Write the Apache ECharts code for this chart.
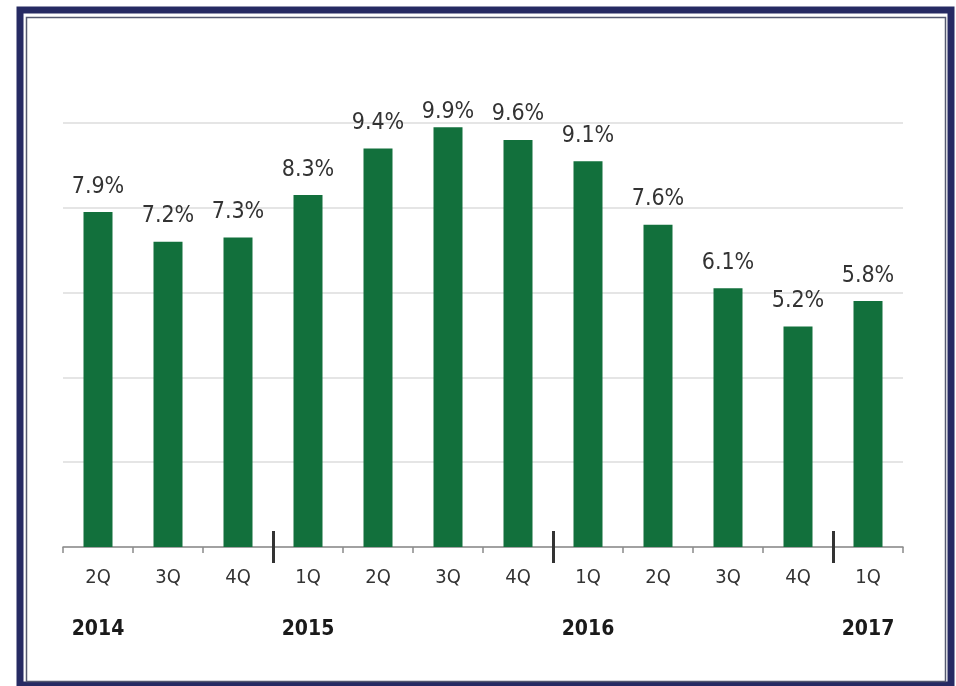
<!DOCTYPE html>
<html>
<head>
<meta charset="utf-8">
<script src="https://cdn.jsdelivr.net/npm/echarts@6/dist/echarts.min.js"></script>
<style>
html,body{margin:0;padding:0;background:#fff;}
#chart{width:956px;height:686px;}
</style>
</head>
<body>
<div id="chart"></div>
<script>
const quarters = ['2Q','3Q','4Q','1Q','2Q','3Q','4Q','1Q','2Q','3Q','4Q','1Q'];
const years    = ['2014','','','2015','','','','2016','','','','2017'];
const values   = [7.9, 7.2, 7.3, 8.3, 9.4, 9.9, 9.6, 9.1, 7.6, 6.1, 5.2, 5.8];
const yearStarts = [3, 7, 11];

const FONT = '"Liberation Sans Narrow", "DejaVu Sans Condensed", "Arial Narrow", sans-serif';
const chart = echarts.init(document.getElementById('chart'), null, {renderer: 'canvas'});

const option = {
  animation: false,
  backgroundColor: '#fff',
  grid: {left: 63, right: 53, top: 123, bottom: 139, containLabel: false},
  xAxis: [
    {
      type: 'category',
      data: quarters,
      position: 'bottom',
      axisLine: {show: true, lineStyle: {color: '#8a8a8a', width: 1.5}},
      axisTick: {show: true, length: 6, lineStyle: {color: '#8a8a8a', width: 1.5}},
      axisLabel: {
        interval: 0,
        margin: 19,
        formatter: function (v, i) {
          return '{q|' + v + '}\n{y|' + (years[i] || ' ') + '}';
        },
        rich: {
          q: {fontFamily: FONT, fontSize: 20, color: '#333', lineHeight: 24},
          y: {fontFamily: FONT, fontSize: 21, fontWeight: 'bold', color: '#1a1a1a', lineHeight: 24, padding: [55, 0, 0, 0]}
        }
      },
      splitLine: {show: false}
    },
    {
      type: 'value',
      min: 0,
      max: quarters.length,
      position: 'bottom',
      offset: -16,
      axisLine: {show: false},
      axisTick: {
        show: true,
        length: 32,
        customValues: yearStarts,
        lineStyle: {color: '#333', width: 3}
      },
      axisLabel: {show: false},
      splitLine: {show: false}
    }
  ],
  yAxis: {
    type: 'value',
    min: 0,
    max: 10,
    interval: 2,
    axisLine: {show: false},
    axisTick: {show: false},
    axisLabel: {show: false},
    splitLine: {show: true, lineStyle: {color: '#dcdcdc', width: 1.5}}
  },
  series: [{
    type: 'bar',
    xAxisIndex: 0,
    data: values.map(function (v, i) {
      return i === 5 ? {value: v, label: {distance: 4}} : v;
    }),
    barWidth: 29,
    itemStyle: {color: '#12703c'},
    label: {
      show: true,
      position: 'top',
      distance: 14,
      formatter: function (p) { return p.value.toFixed(1) + '%'; },
      fontFamily: FONT,
      fontSize: 23,
      color: '#333'
    }
  }],
  graphic: [
    {
      type: 'rect',
      shape: {x: 20, y: 10, width: 931, height: 675},
      style: {fill: 'none', stroke: '#262a63', lineWidth: 7},
      silent: true
    },
    {
      type: 'rect',
      shape: {x: 26.5, y: 17.5, width: 919, height: 664},
      style: {fill: 'none', stroke: '#555a70', lineWidth: 1.5},
      silent: true
    }
  ]
};
chart.setOption(option);
</script>
</body>
</html>
